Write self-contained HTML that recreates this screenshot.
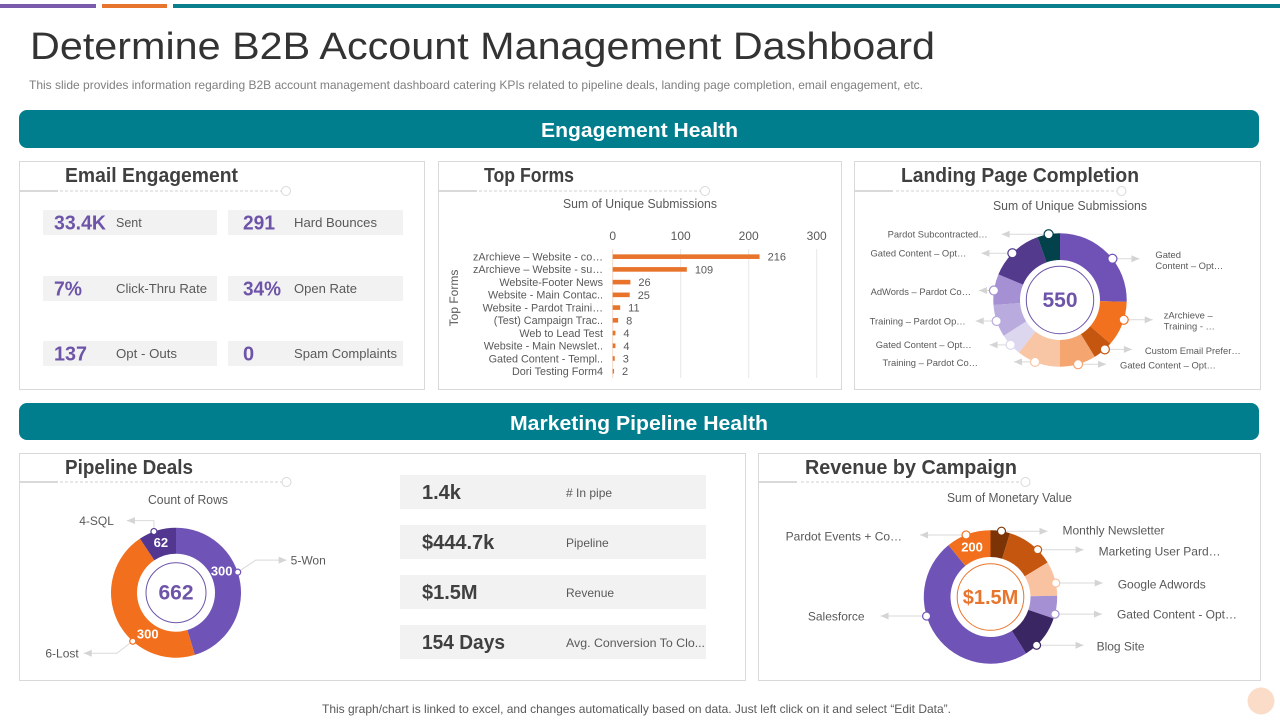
<!DOCTYPE html>
<html lang="en">
<head>
<meta charset="utf-8">
<title>Determine B2B Account Management Dashboard</title>
<style>
  html,body{margin:0;padding:0;background:#fff;width:1280px;height:720px;overflow:hidden}
  svg{display:block;font-family:"Liberation Sans",Arial,sans-serif}
  .panel{fill:#fff;stroke:#d9d9d9;stroke-width:1}
  .ptitle{font-size:20px;font-weight:bold;fill:#404040}
  .sec{font-size:20px;font-weight:bold;fill:#fff}
  .chip{fill:#f2f2f2}
  .kv{font-size:20px;font-weight:bold;fill:#6d54a9}
  .kl{font-size:12.5px;fill:#595959}
  .pv{font-size:20px;font-weight:bold;fill:#404040}
  .pl{font-size:12px;fill:#595959}
  .ct{font-size:12.5px;fill:#595959}
</style>
</head>
<body>
<svg id="page" width="1280" height="720" viewBox="0 0 1280 720" xmlns="http://www.w3.org/2000/svg">
  <rect x="0" y="4" width="96" height="4" fill="#7a5bab"/>
  <rect x="102" y="4" width="65" height="4" fill="#e8752e"/>
  <rect x="173" y="4" width="1107" height="4" fill="#0a7f8d"/>

  <text x="30" y="59" font-size="38" fill="#333333" textLength="905" lengthAdjust="spacingAndGlyphs">Determine B2B Account Management Dashboard</text>
  <text x="29" y="89" font-size="12" fill="#7f7f7f" textLength="894" lengthAdjust="spacingAndGlyphs">This slide provides information regarding B2B account management dashboard catering KPIs related to pipeline deals, landing page completion, email engagement, etc.</text>

  <rect x="19" y="110" width="1240" height="38" rx="8" fill="#017e8e"/>
  <text class="sec" x="541" y="137" textLength="197" lengthAdjust="spacingAndGlyphs">Engagement Health</text>
  <rect x="19" y="403" width="1240" height="37" rx="8" fill="#017e8e"/>
  <text class="sec" x="510" y="430" textLength="258" lengthAdjust="spacingAndGlyphs">Marketing Pipeline Health</text>

  <!-- Panels -->
  <rect class="panel" x="19.5" y="161.5" width="405" height="228"/>
  <rect class="panel" x="438.5" y="161.5" width="403" height="228"/>
  <rect class="panel" x="854.5" y="161.5" width="406" height="228"/>
  <rect class="panel" x="19.5" y="453.5" width="726" height="227"/>
  <rect class="panel" x="758.5" y="453.5" width="502" height="227"/>

  <!-- Panel titles -->
  <text class="ptitle" x="65" y="182" textLength="173" lengthAdjust="spacingAndGlyphs">Email Engagement</text>
  <text class="ptitle" x="484" y="182" textLength="90" lengthAdjust="spacingAndGlyphs">Top Forms</text>
  <text class="ptitle" x="901" y="182" textLength="238" lengthAdjust="spacingAndGlyphs">Landing Page Completion</text>
  <text class="ptitle" x="65" y="474" textLength="128" lengthAdjust="spacingAndGlyphs">Pipeline Deals</text>
  <text class="ptitle" x="805" y="474" textLength="212" lengthAdjust="spacingAndGlyphs">Revenue by Campaign</text>

  <!-- Panel header rules -->
  <g>
    <line x1="20" y1="191" x2="58" y2="191" stroke="#d9d9d9" stroke-width="2"/>
    <line x1="60" y1="191" x2="282" y2="191" stroke="#d0d0d0" stroke-dasharray="3 2"/>
    <circle cx="286" cy="191" r="4.5" fill="#fff" stroke="#d9d9d9"/>
  </g>
  <g>
    <line x1="439" y1="191" x2="477" y2="191" stroke="#d9d9d9" stroke-width="2"/>
    <line x1="479" y1="191" x2="701" y2="191" stroke="#d0d0d0" stroke-dasharray="3 2"/>
    <circle cx="705" cy="191" r="4.5" fill="#fff" stroke="#d9d9d9"/>
  </g>
  <g>
    <line x1="855" y1="191" x2="893" y2="191" stroke="#d9d9d9" stroke-width="2"/>
    <line x1="896" y1="191" x2="1117" y2="191" stroke="#d0d0d0" stroke-dasharray="3 2"/>
    <circle cx="1121.5" cy="191" r="4.5" fill="#fff" stroke="#d9d9d9"/>
  </g>
  <g>
    <line x1="20" y1="482" x2="58" y2="482" stroke="#d9d9d9" stroke-width="2"/>
    <line x1="60" y1="482" x2="282" y2="482" stroke="#d0d0d0" stroke-dasharray="3 2"/>
    <circle cx="286.5" cy="482" r="4.5" fill="#fff" stroke="#d9d9d9"/>
  </g>
  <g>
    <line x1="759" y1="482" x2="797" y2="482" stroke="#d9d9d9" stroke-width="2"/>
    <line x1="801" y1="482" x2="1021" y2="482" stroke="#d0d0d0" stroke-dasharray="3 2"/>
    <circle cx="1025.5" cy="482" r="4.5" fill="#fff" stroke="#d9d9d9"/>
  </g>

  <!-- Email KPI chips -->
  <g>
    <rect class="chip" x="43" y="210" width="174" height="25"/>
    <text class="kv" x="54" y="229.5" textLength="52" lengthAdjust="spacingAndGlyphs">33.4K</text>
    <text class="kl" x="116" y="227">Sent</text>
  </g>
  <g>
    <rect class="chip" x="228" y="210" width="175" height="25"/>
    <text class="kv" x="243" y="229.5" textLength="32" lengthAdjust="spacingAndGlyphs">291</text>
    <text class="kl" x="294" y="227" textLength="83" lengthAdjust="spacingAndGlyphs">Hard Bounces</text>
  </g>
  <g>
    <rect class="chip" x="43" y="276" width="174" height="25"/>
    <text class="kv" x="54" y="295.5" textLength="28" lengthAdjust="spacingAndGlyphs">7%</text>
    <text class="kl" x="116" y="293" textLength="91" lengthAdjust="spacingAndGlyphs">Click-Thru Rate</text>
  </g>
  <g>
    <rect class="chip" x="228" y="276" width="175" height="25"/>
    <text class="kv" x="243" y="295.5" textLength="38" lengthAdjust="spacingAndGlyphs">34%</text>
    <text class="kl" x="294" y="293" textLength="63" lengthAdjust="spacingAndGlyphs">Open Rate</text>
  </g>
  <g>
    <rect class="chip" x="43" y="341" width="174" height="25"/>
    <text class="kv" x="54" y="360.5" textLength="33" lengthAdjust="spacingAndGlyphs">137</text>
    <text class="kl" x="116" y="358" textLength="61" lengthAdjust="spacingAndGlyphs">Opt - Outs</text>
  </g>
  <g>
    <rect class="chip" x="228" y="341" width="175" height="25"/>
    <text class="kv" x="243" y="360.5">0</text>
    <text class="kl" x="294" y="358" textLength="103" lengthAdjust="spacingAndGlyphs">Spam Complaints</text>
  </g>

  <!-- Pipeline KPIs -->
  <g>
    <rect class="chip" x="400" y="475" width="306" height="34"/>
    <text class="pv" x="422" y="499">1.4k</text>
    <text class="pl" x="566" y="497"># In pipe</text>
  </g>
  <g>
    <rect class="chip" x="400" y="525" width="306" height="34"/>
    <text class="pv" x="422" y="549">$444.7k</text>
    <text class="pl" x="566" y="547">Pipeline</text>
  </g>
  <g>
    <rect class="chip" x="400" y="575" width="306" height="34"/>
    <text class="pv" x="422" y="599">$1.5M</text>
    <text class="pl" x="566" y="597">Revenue</text>
  </g>
  <g>
    <rect class="chip" x="400" y="625" width="306" height="34"/>
    <text class="pv" x="422" y="649" textLength="83" lengthAdjust="spacingAndGlyphs">154 Days</text>
    <text class="pl" x="566" y="647" textLength="139" lengthAdjust="spacingAndGlyphs">Avg. Conversion To Clo...</text>
  </g>

  <!-- Chart titles -->
  <text class="ct" x="563" y="208" textLength="154" lengthAdjust="spacingAndGlyphs">Sum of Unique Submissions</text>
  <text class="ct" x="993" y="210" textLength="154" lengthAdjust="spacingAndGlyphs">Sum of Unique Submissions</text>
  <text class="ct" x="148" y="504" textLength="80" lengthAdjust="spacingAndGlyphs">Count of Rows</text>
  <text class="ct" x="947" y="502" textLength="125" lengthAdjust="spacingAndGlyphs">Sum of Monetary Value</text>
  <text x="0" y="0" font-size="12" fill="#595959" text-anchor="middle" transform="translate(458,298) rotate(-90)">Top Forms</text>

  <g id="bar-chart"></g>
  <g id="landing-donut"></g>
  <g id="pipeline-donut"></g>
  <g id="revenue-donut"></g>

  <text x="322" y="713" font-size="12" fill="#595959" textLength="629" lengthAdjust="spacingAndGlyphs">This graph/chart is linked to excel, and changes automatically based on data. Just left click on it and select “Edit Data”.</text>
  <circle cx="1261" cy="701" r="13.5" fill="#fbdcc9"/>
</svg>

<script>
/* ---------- Chart data ---------- */
const formCategories = ["zArchieve – Website - co…", "zArchieve – Website - su…", "Website-Footer News", "Website - Main Contac..", "Website - Pardot Traini…", "(Test) Campaign Trac..", "Web to Lead Test", "Website - Main Newslet..", "Gated Content - Templ..", "Dori Testing Form4"];
const formValues = [216, 109, 26, 25, 11, 8, 4, 4, 3, 2];
const formTicks = [0, 100, 200, 300];

const landingCategories = ["Gated\nContent – Opt…", "zArchieve –\nTraining - …", "Custom Email Prefer…", "Gated Content – Opt…", "Training – Pardot Co…", "Gated Content – Opt…", "Training – Pardot Op…", "AdWords – Pardot Co…", "Gated Content – Opt…", "Pardot Subcontracted…"];
const landingValues = [140, 60, 27, 48, 58, 30, 43, 41, 73, 30];

const pipelineCategories = ["5-Won", "6-Lost", "4-SQL"];
const pipelineValues = [300, 300, 62];

const revenueCategories = ["Monthly Newsletter", "Marketing User Pard…", "Google Adwords", "Gated Content - Opt…", "Blog Site", "Salesforce", "Pardot Events + Co…"];
const revenueValues = [87, 215, 154, 102, 200, 888, 200];

/* ---------- Styling / layout (not data) ---------- */
const landingStyle = ["#7051b5", "#f2711f", "#c5560f", "#f4a570", "#f9c6a5", "#dcd7ee", "#b9abdd", "#a490d3", "#533a8c", "#03414b"];
const pipelineStyle = ["#7053b6", "#f2701d", "#52368f"];
const revenueStyle = ["#7c3305", "#c5560f", "#f9c3a1", "#a490d3", "#3b2664", "#7053b6", "#f2701d"];

const landingLeaderLayout = [
  {shift: 6, tip: 27, textX: 43, textY: 1.5},
  {shift: -4, tip: 29, textX: 40, textY: 1},
  {shift: -2, tip: 27, textX: 40, textY: 1},
  {shift: 0, tip: 28, textX: 42, textY: 1},
  {shift: 3, tip: -21, textX: -57, textY: 1},
  {shift: 0, tip: -21, textX: -39, textY: 0},
  {shift: 0, tip: -21, textX: -31, textY: 0},
  {shift: -1, tip: -15, textX: -23, textY: 1},
  {shift: -2, tip: -31, textX: -46, textY: 0},
  {shift: 0, tip: -47, textX: -61, textY: 0}
];
const pipelineLeaderLayout = [
  {shift: -10, elbowX: 18, elbowY: -12, tip: 49, textX: 53, textY: -12, valueX: -16, valueY: -1},
  {shift: -23, elbowX: -16, elbowY: 12, tip: -49, textX: -54, textY: 12, valueX: 15, valueY: -7},
  {shift: -3, elbowX: 0, elbowY: -11, tip: -27, textX: -40, textY: -11, valueX: 7, valueY: 11}
];
const revenueLeaderLayout = [
  {shift: 1, tip: 46, textX: 61, textY: -1},
  {shift: 7, tip: 46, textX: 61, textY: 1.5},
  {shift: 4, tip: 47, textX: 62, textY: 1},
  {shift: 6, tip: 47, textX: 62, textY: 0},
  {shift: 8, tip: 47, textX: 60, textY: 1},
  {shift: 19, tip: -46, textX: -62, textY: 0},
  {shift: -2, tip: -46, textX: -64, textY: 1, valueX: 6, valueY: 12}
];

/* ---------- Helpers ---------- */
const NS = "http://www.w3.org/2000/svg";
function make(tag, attrs, parent) {
  const el = document.createElementNS(NS, tag);
  for (const k in attrs) el.setAttribute(k, attrs[k]);
  parent.appendChild(el);
  return el;
}
function polar(cx, cy, r, deg) {
  const a = deg * Math.PI / 180;
  return [cx + r * Math.sin(a), cy - r * Math.cos(a)];
}
function arcPath(cx, cy, r0, r1, a0, a1) {
  const large = a1 - a0 > 180 ? 1 : 0;
  const p0 = polar(cx, cy, r1, a0), p1 = polar(cx, cy, r1, a1);
  const p2 = polar(cx, cy, r0, a1), p3 = polar(cx, cy, r0, a0);
  return "M" + p0[0] + " " + p0[1] + "A" + r1 + " " + r1 + " 0 " + large + " 1 " + p1[0] + " " + p1[1] +
         "L" + p2[0] + " " + p2[1] + "A" + r0 + " " + r0 + " 0 " + large + " 0 " + p3[0] + " " + p3[1] + "Z";
}

/* ---------- Bar chart ---------- */
(function drawBars() {
  const root = document.getElementById("bar-chart");
  const x0 = 612.7, unit = 0.68, top = 250.3, bottom = 377.6;
  const xScale = v => x0 + v * unit;
  const band = (bottom - top) / formCategories.length;
  const yScale = i => top + band * (i + 0.5);

  formTicks.forEach(t => {
    const grid = make("line", {x1: xScale(t), x2: xScale(t), y1: 249, y2: 378, stroke: t === 0 ? "#f3d9c8" : "#e8e8e8"}, root);
    
    
    const label = make("text", {x: xScale(t), y: 240, "text-anchor": "middle", "font-size": 12, fill: "#595959"}, root);
    
    
    label.textContent = t;
  });
  formCategories.forEach((c, i) => {
    const y = yScale(i);
    const cat = make("text", {x: 603, y: y + 3.8, "text-anchor": "end", "font-size": 10.8, fill: "#595959"}, root);
    
    
    cat.textContent = c;
    const bar = make("rect", {x: x0, y: y - 2.3, width: formValues[i] * unit, height: 4.6, fill: "#e8742c"}, root);
    
    
    const val = make("text", {x: xScale(formValues[i]) + 8, y: y + 4, "font-size": 11, fill: "#595959"}, root);
    
    
    val.textContent = formValues[i];
  });
})();

/* ---------- Donuts ---------- */
function drawDonut(rootId, categories, values, colors, layout, geo) {
  const root = document.getElementById(rootId);
  const total = values.reduce((a, b) => a + b, 0);
  const angle = v => v / total * 360;
  let start = 0;
  const mids = [];
  values.forEach((v, i) => {
    const end = start + angle(v);
    const slice = make("path", {d: arcPath(geo.cx, geo.cy, geo.inner, geo.outer, start, end), fill: colors[i]}, root);
    
    
    mids.push((start + end) / 2);
    start = end;
  });

  const ring = make("circle", {cx: geo.cx, cy: geo.cy, r: geo.ring, fill: "#fff", stroke: geo.accent, "stroke-width": 1}, root);
  
  
  const center = make("text", {x: geo.cx, y: geo.cy + 7, "text-anchor": "middle", "font-size": geo.centerSize, "font-weight": "bold", fill: geo.accent}, root);
  
  
  center.textContent = geo.centerText === null ? total : geo.centerText;

  categories.forEach((c, i) => {
    const L = layout[i];
    const m = polar(geo.cx, geo.cy, geo.outer, mids[i] + L.shift);
    const eX = m[0] + (L.elbowX || 0);
    const eY = m[1] + (L.elbowY || 0);
    const tipX = m[0] + L.tip;
    const dir = L.tip > 0 ? 1 : -1;
    const leader = make("polyline", {points: m[0] + "," + m[1] + " " + eX + "," + eY + " " + tipX + "," + eY, fill: "none", stroke: "#d9d9d9", "stroke-width": 1}, root);
    
    
    const arrow = make("polygon", {points: tipX + "," + eY + " " + (tipX - dir * 8) + "," + (eY - 3.5) + " " + (tipX - dir * 8) + "," + (eY + 3.5), fill: "#d4d4d4"}, root);
    
    
    const dot = make("circle", {cx: m[0], cy: m[1], r: geo.dot, fill: "#fff", stroke: colors[i], "stroke-width": 1.2}, root);
    
    

    const lines = c.split("\n");
    const label = make("text", {"font-size": geo.labelSize, fill: "#595959", "text-anchor": L.textX < 0 ? "end" : "start"}, root);
    
    
    const lh = geo.labelSize + 1.6;
    lines.forEach((t, k) => {
      const sp = make("tspan", {x: m[0] + L.textX, y: m[1] + L.textY + geo.labelSize * 0.36 + (k - (lines.length - 1) / 2) * lh}, label);
      sp.textContent = t;
    });

    if (L.valueX !== undefined) {
      const v = make("text", {x: m[0] + L.valueX, y: m[1] + L.valueY + 4.5, "text-anchor": "middle", "font-size": 13, "font-weight": "bold", fill: "#fff"}, root);
      
      
      v.textContent = values[i];
    }
  });
}

drawDonut("landing-donut", landingCategories, landingValues, landingStyle, landingLeaderLayout,
  {cx: 1060, cy: 300, outer: 66.7, inner: 40, ring: 33.7, accent: "#6d54a9", centerSize: 21, centerText: null, dot: 4.5, labelSize: 9.4});
drawDonut("pipeline-donut", pipelineCategories, pipelineValues, pipelineStyle, pipelineLeaderLayout,
  {cx: 176, cy: 592.7, outer: 65, inner: 39, ring: 30, accent: "#6d54a9", centerSize: 21, centerText: null, dot: 3, labelSize: 12});
drawDonut("revenue-donut", revenueCategories, revenueValues, revenueStyle, revenueLeaderLayout,
  {cx: 990.5, cy: 597, outer: 66.7, inner: 40, ring: 33.3, accent: "#e8752e", centerSize: 20, centerText: "$1.5M", dot: 4, labelSize: 12});
</script>
</body>
</html>
